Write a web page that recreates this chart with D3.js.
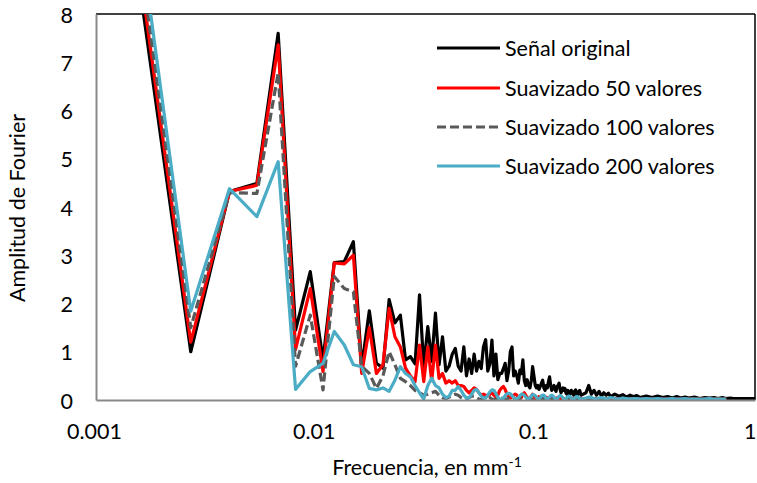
<!DOCTYPE html>
<html>
<head>
<meta charset="utf-8">
<script src="https://cdn.jsdelivr.net/npm/d3@7"></script>
<style>
  html, body { margin: 0; padding: 0; background: #fff; }
  svg text { font-family: "Lato", "Open Sans", sans-serif; fill: #000; }
</style>
</head>
<body>
<svg id="chart" width="757" height="483"></svg>
<script>
// ---- DATA ----
// Frequency spacing of the spectrum (mm^-1); values below are at k = 1, 2, 3, ...
const freqStep = 0.00135;
// High-frequency tail, read at these frequencies
const tailFreq = [0.17,0.175,0.18,0.185,0.19,0.195,0.2,0.205,0.21,0.215,0.22,0.23,0.24,0.25,0.26,0.27,0.28,0.29,0.30,0.32,0.34,0.36,0.38,0.40,0.42,0.44,0.46,0.48,0.50,0.53,0.56,0.59,0.62,0.65,0.68,0.71,0.74,0.77,0.80,0.83,1.0];

const seriesNames = ["Señal original", "Suavizado 50 valores", "Suavizado 100 valores", "Suavizado 200 valores"];

const original = [10.8,1.0,4.32,4.49,7.6,1.45,2.66,0.83,2.85,2.87,
  3.28,0.69,1.85,0.76,0.66,2.08,1.6,1.76,0.83,0.9,
  0.75,2.18,0.69,1.52,0.8,1.8,0.73,1.31,0.6,0.7,
  0.95,1.07,0.7,0.6,1.1,0.5,0.85,0.55,0.95,0.6,
  0.8,0.65,1.1,1.25,0.6,0.75,1.24,0.5,0.95,0.42,
  0.55,0.55,0.65,0.76,0.4,0.6,1.0,1.1,0.5,0.6,
  0.5,0.35,0.62,0.55,0.83,0.4,0.3,0.42,0.3,0.25,
  0.4,0.69,0.5,0.3,0.25,0.3,0.22,0.28,0.35,0.41,
  0.25,0.2,0.3,0.25,0.38,0.48,0.3,0.2,0.25,0.3,
  0.22,0.18,0.28,0.3,0.35,0.22,0.15,0.2,0.25,0.2,
  0.24,0.15,0.12,0.2,0.18,0.1,0.15,0.2,0.17,0.12,
  0.1,0.18,0.21,0.15,0.1,0.12,0.18,0.2,0.13,0.1];
const originalTail = [0.15,0.3,0.12,0.2,0.1,0.18,0.08,0.15,0.1,0.14,0.07,0.12,0.08,0.11,0.06,0.1,0.07,0.09,0.05,0.08,0.05,0.08,0.05,0.07,0.04,0.07,0.04,0.06,0.04,0.06,0.03,0.05,0.04,0.05,0.03,0.05,0.03,0.04,0.03,0.03,0.03];

const smooth50 = [11.2,1.2,4.32,4.45,7.36,1.05,2.31,0.59,2.84,2.82,
  3.0,0.55,1.5,0.55,0.73,1.9,1.31,1.1,0.66,0.5,
  0.38,1.14,0.38,1.1,0.4,1.14,0.45,0.55,0.35,0.4,
  0.35,0.4,0.3,0.3,0.28,0.2,0.15,0.2,0.25,0.22,
  0.15,0.1,0.12,0.1,0.08,0.12,0.15,0.1,0.06,0.1,
  0.2,0.25,0.28,0.22,0.12,0.06,0.04,0.06,0.1,0.12,
  0.1,0.05,0.03,0.05,0.12,0.15,0.1,0.04,0.02,0.04,
  0.08,0.12,0.08,0.03,0.02,0.05,0.07,0.06,0.03,0.01,
  0.03,0.05,0.06,0.04,0.02,0.02,0.04,0.05,0.04,0.02,
  0.02,0.03,0.05,0.04,0.02,0.01,0.03,0.04,0.04,0.02,
  0.01,0.02,0.04,0.04,0.03,0.01,0.02,0.03,0.04,0.02,
  0.01,0.02,0.03,0.03,0.02,0.01,0.02,0.03,0.03,0.02];
const smooth50Tail = [0.02,0.04,0.03,0.02,0.03,0.02,0.03,0.02,0.02,0.03,0.02,0.02,0.03,0.02,0.02,0.02,0.03,0.02,0.02,0.02,0.02,0.02,0.02,0.02,0.02,0.02,0.02,0.02,0.02,0.02,0.02,0.02,0.02,0.02,0.02,0.02,0.02];

const smooth100 = [11.5,1.5,4.3,4.28,6.78,0.7,1.76,0.21,2.56,2.31,
  2.24,0.7,0.55,0.24,0.5,1.0,0.73,0.45,0.38,0.3,
  0.2,0.15,0.1,0.12,0.15,0.18,0.1,0.05,0.03,0.06,
  0.1,0.12,0.1,0.05,0.02,0.02,0.05,0.08,0.08,0.05,
  0.02,0.01,0.03,0.06,0.07,0.05,0.02,0.01,0.02,0.04,
  0.05,0.04,0.02,0.01,0.02,0.04,0.05,0.04,0.02,0.01,
  0.02,0.03,0.04,0.03,0.02,0.01,0.02,0.03,0.04,0.03,
  0.01,0.01,0.02,0.03,0.03,0.02,0.01,0.02,0.03,0.03,
  0.02,0.01,0.02,0.03,0.03,0.02,0.01,0.02,0.03,0.02,
  0.01,0.01,0.02,0.03,0.02,0.01,0.01,0.02,0.03,0.02,
  0.01,0.01,0.02,0.02,0.02,0.01,0.01,0.02,0.02,0.02,
  0.01,0.01,0.02,0.02,0.02,0.01,0.01,0.02,0.02,0.02];
const smooth100Tail = [0.02,0.02,0.02,0.02,0.02,0.02,0.02,0.02,0.02,0.02,0.02,0.02,0.02,0.02,0.02,0.02,0.02,0.02,0.02,0.02,0.02,0.02,0.02,0.02,0.02,0.02,0.02,0.02,0.02,0.02,0.02,0.02,0.02,0.02,0.02,0.02,0.02];

const smooth200 = [12.0,1.84,4.38,3.8,4.94,0.22,0.59,0.76,1.42,1.14,
  0.73,0.69,0.24,0.21,0.25,0.18,0.41,0.69,0.55,0.48,
  0.3,0.15,0.02,0.3,0.45,0.3,0.25,0.12,0.05,0.08,
  0.2,0.2,0.28,0.2,0.1,0.04,0.05,0.12,0.2,0.22,
  0.15,0.08,0.04,0.04,0.1,0.17,0.21,0.2,0.13,0.06,
  0.02,0.01,0.04,0.09,0.13,0.14,0.13,0.09,0.05,0.02,
  0.02,0.05,0.09,0.12,0.12,0.1,0.06,0.03,0.02,0.04,
  0.08,0.11,0.11,0.09,0.05,0.02,0.02,0.05,0.09,0.1,
  0.1,0.07,0.03,0.02,0.03,0.06,0.09,0.1,0.09,0.06,
  0.03,0.01,0.02,0.05,0.08,0.09,0.09,0.07,0.04,0.02,
  0.01,0.02,0.05,0.07,0.08,0.08,0.06,0.04,0.02,0.01,
  0.02,0.04,0.06,0.07,0.07,0.06,0.04,0.02,0.01,0.02];
const smooth200Tail = [0.04,0.06,0.05,0.03,0.02,0.04,0.05,0.04,0.02,0.03,0.05,0.03,0.02,0.04,0.03,0.02,0.03,0.03,0.02,0.03,0.02,0.03,0.02,0.02,0.03,0.02,0.02,0.03,0.02,0.02,0.02,0.02,0.03,0.02,0.02,0.02,0.02];

const yTicks = [0,1,2,3,4,5,6,7,8];
const xTicks = [0.001, 0.01, 0.1, 1];
const xTickLabels = ["0.001", "0.01", "0.1", "1"];

// ---- BUILD ----
function toPoints(vals, tail) {
  const pts = vals.map((v, i) => ({f: (i + 1) * freqStep, v}));
  tail.forEach((v, i) => pts.push({f: tailFreq[i], v}));
  return pts;
}
const seriesData = [
  {name: seriesNames[0], pts: toPoints(original, originalTail), color: "#000000", dash: null},
  {name: seriesNames[1], pts: toPoints(smooth50, smooth50Tail), color: "#FF0000", dash: null},
  {name: seriesNames[2], pts: toPoints(smooth100, smooth100Tail), color: "#595959", dash: "9,4"},
  {name: seriesNames[3], pts: toPoints(smooth200, smooth200Tail), color: "#4BACC6", dash: null}
];

const FS = 21.5;
const svg = d3.select("#chart");
const plot = {left: 96, right: 755, top: 14, bottom: 400};

const x = d3.scaleLog().domain([0.001, 1]).range([plot.left, plot.right]);
const y = d3.scaleLinear().domain([0, 8]).range([plot.bottom, plot.top]);

svg.append("defs").append("clipPath").attr("id", "clip")
  .append("rect").attr("x", plot.left).attr("y", plot.top)
  .attr("width", plot.right - plot.left).attr("height", plot.bottom - plot.top);

// plot-area border (top/right black)
svg.append("line").attr("x1", plot.left).attr("x2", plot.right).attr("y1", plot.top).attr("y2", plot.top)
  .attr("stroke", "#000").attr("stroke-width", 1.5);
svg.append("line").attr("x1", plot.right).attr("x2", plot.right).attr("y1", plot.top).attr("y2", plot.bottom)
  .attr("stroke", "#000").attr("stroke-width", 1.5);

const line = d3.line().x(d => x(d.f)).y(d => y(d.v));
const g = svg.append("g").attr("clip-path", "url(#clip)");
seriesData.forEach(s => {
  g.append("path").datum(s.pts)
    .attr("d", line)
    .attr("fill", "none")
    .attr("stroke", s.color)
    .attr("stroke-width", 3.2)
    .attr("stroke-linejoin", "round")
    .attr("stroke-dasharray", s.dash);
});

// axes
const yAxis = d3.axisLeft(y).tickValues(yTicks).tickSize(0).tickPadding(23).tickFormat(d3.format("d"));
const ya = svg.append("g").attr("transform", `translate(${plot.left},0)`).call(yAxis);
ya.select(".domain").attr("stroke", "#898989").attr("stroke-width", 2);
ya.selectAll("text").attr("font-size", FS).attr("dy", "0.38em").style("font-family", "Lato");

const xAxis = d3.axisBottom(x).tickValues(xTicks).tickSize(0).tickPadding(24)
  .tickFormat((d, i) => xTickLabels[i]);
const xa = svg.append("g").attr("transform", `translate(0,${plot.bottom})`).call(xAxis);
xa.select(".domain").attr("stroke", "#898989").attr("stroke-width", 2);
xa.selectAll("text").attr("font-size", FS).style("font-family", "Lato")
  .attr("dx", "-2");
xa.selectAll(".tick").filter(d => d === 1).select("text")
  .attr("text-anchor", "end").attr("dx", "1");

// titles
svg.append("text").attr("transform", "translate(25,208) rotate(-90)")
  .attr("text-anchor", "middle").attr("font-size", FS).text("Amplitud de Fourier");
const xt = svg.append("text").attr("x", 427).attr("y", 475).attr("text-anchor", "middle").attr("font-size", FS);
xt.append("tspan").text("Frecuencia, en mm");
xt.append("tspan").attr("dy", -8).attr("font-size", 14).text("-1");

// legend
const legendY = [48, 88, 127, 166];
seriesData.forEach((s, i) => {
  svg.append("line").attr("x1", 437).attr("x2", 500).attr("y1", legendY[i]).attr("y2", legendY[i])
    .attr("stroke", s.color).attr("stroke-width", 3.2).attr("stroke-dasharray", s.dash);
  svg.append("text").attr("x", 505).attr("y", legendY[i]).attr("dy", "0.35em")
    .attr("font-size", FS).text(s.name);
});
</script>
</body>
</html>
